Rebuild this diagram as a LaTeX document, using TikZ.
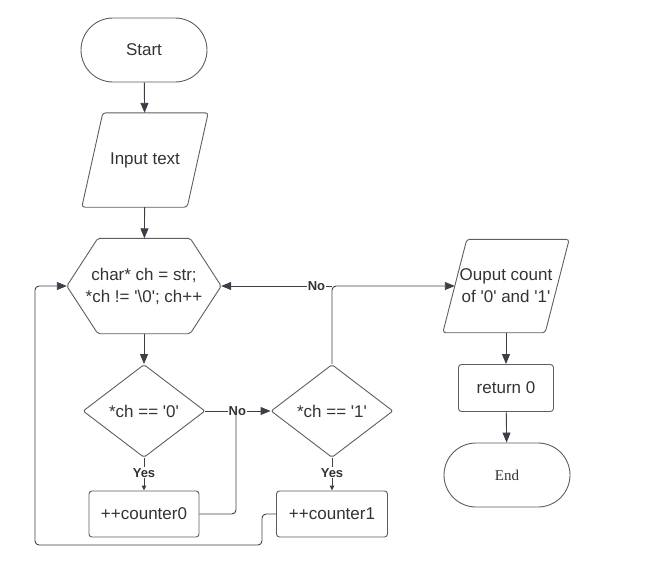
\documentclass[tikz,border=0pt]{standalone}
\usepackage{fontspec}
\setmainfont{Liberation Sans}
\newfontfamily\endfont{Liberation Serif}
\usetikzlibrary{arrows.meta,shapes.geometric,calc}

\definecolor{edgegray}{HTML}{5E5E5E}
\definecolor{linedark}{HTML}{3B4048}
\definecolor{txt}{HTML}{333333}
\newcommand\sq{\textquotesingle}

\tikzset{
  every node/.style={font=\fontsize{17}{22}\selectfont, text=txt},
  shapeline/.style={draw=edgegray, line width=0.9pt},
  conn/.style={draw=linedark, line width=0.9pt},
  flow/.style={conn, -{Triangle[length=10pt,width=8pt]}},
  smallflow/.style={conn, -{Triangle[length=5pt,width=4.5pt]}},
  term/.style={shapeline, rounded corners=32pt, minimum width=126pt, minimum height=64pt},
  proc/.style={shapeline, rounded corners=3pt, minimum height=46pt},
  dec/.style={shapeline, diamond, rounded corners=2pt, minimum width=122pt,
              minimum height=93pt, inner sep=0pt},
  frame/.style={inner sep=0pt, align=center},
  lbl/.style={font=\bfseries\fontsize{13}{15}\selectfont, fill=white, inner sep=1pt, text=txt},
}

\begin{document}
\begin{tikzpicture}[x=1pt, y=-1pt]
\useasboundingbox (0,0) rectangle (649,563);

% terminals
\node[term] (start) at (144,50) {Start};
\node[term] (stop) at (507,475) {\endfont\fontsize{15}{18}\selectfont End};

% input parallelogram
\node[frame, minimum width=105pt, minimum height=94pt] (inp) at (145,160) {Input text};
\draw[shapeline, rounded corners=3pt]
  ($(inp.north west)+(10.5,0)$) -- ($(inp.north east)+(10.5,0)$) --
  ($(inp.south east)+(-10.5,0)$) -- ($(inp.south west)+(-10.5,0)$) -- cycle;

% loop header hexagon
\node[frame, minimum width=154pt, minimum height=95pt] (hex) at (144,286)
  {char* ch = str;\\ *ch != \sq\textbackslash0\sq; ch++};
\draw[shapeline, rounded corners=2pt]
  (hex.west) -- ($(hex.north west)+(31,0)$) -- ($(hex.north east)+(-31,0)$) --
  (hex.east) -- ($(hex.south east)+(-31,0)$) -- ($(hex.south west)+(31,0)$) -- cycle;

% output parallelogram
\node[frame, minimum width=102pt, minimum height=93pt] (out) at (506,286)
  {Ouput count\\of \sq0\sq{} and \sq1\sq};
\draw[shapeline, rounded corners=3pt]
  ($(out.north west)+(12,0)$) -- ($(out.north east)+(12,0)$) --
  ($(out.south east)+(-12,0)$) -- ($(out.south west)+(-12,0)$) -- cycle;

% decisions
\node[dec] (d0) at (144,411) {*ch == \sq0\sq};
\node[dec] (d1) at (332,411) {*ch == \sq1\sq};

% processes
\node[proc, minimum width=110pt] (c0) at (144,514) {++counter0};
\node[proc, minimum width=111pt] (c1) at (332,514) {++counter1};
\node[proc, minimum width=95pt, minimum height=47pt] (ret) at (506,388) {return 0};

% routing points
\coordinate (j0) at (236,411);
\coordinate (j1) at (332,286);
\coordinate (loopA) at (262,545);
\coordinate (loopB) at (35,545);

% connectors
\draw[flow] (start) -- (inp);
\draw[flow] (inp) -- (hex);
\draw[flow] (hex) -- (d0);
\draw[smallflow] (d0) -- node[lbl, pos=0.45] {Yes} (c0);
\draw[smallflow] (d1) -- node[lbl, pos=0.45] {Yes} (c1);
\draw[flow] (d0) -- node[lbl, pos=0.49] {No} (d1);
\draw[conn, rounded corners=4pt] (c0.east) -| (j0);
\draw[flow, rounded corners=4pt] (d1.north) |- (out.west);
\draw[flow] (j1) -- node[lbl, pos=0.14] {No} (hex.east);
\draw[flow, rounded corners=4pt] (c1.west) -| (loopA) -- (loopB) |- (hex.west);
\draw[flow] (out) -- (ret);
\draw[flow] (ret) -- (stop);
\end{tikzpicture}
\end{document}
